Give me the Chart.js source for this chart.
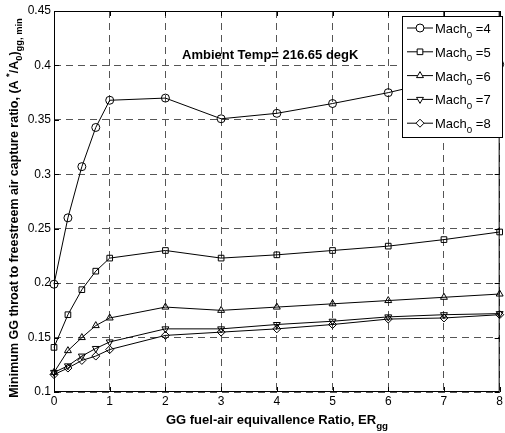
<!DOCTYPE html>
<html lang="en">
<head>
  <meta charset="UTF-8" />
  <title>Minimum GG throat ratio</title>
  <script src="https://cdn.jsdelivr.net/npm/chart.js"></script>
  <style>
    body { margin: 0; background: #fff; }
    #wrap { width: 505px; height: 433px; }
  </style>
</head>
<body>
  <div id="wrap"><canvas id="chart" width="505" height="433"></canvas></div>

  <script>
    // Data
    const erValues = [0, 0.25, 0.5, 0.75, 1, 2, 3, 4, 5, 6, 7, 8];
    const mach4 = [0.199, 0.260, 0.307, 0.343, 0.368, 0.370, 0.351, 0.356, 0.365, 0.375, 0.387, 0.401];
    const mach5 = [0.141, 0.171, 0.194, 0.211, 0.223, 0.230, 0.223, 0.226, 0.230, 0.234, 0.240, 0.247];
    const mach6 = [0.118, 0.138, 0.150, 0.161, 0.168, 0.178, 0.175, 0.178, 0.181, 0.184, 0.187, 0.190];
    const mach7 = [0.118, 0.124, 0.133, 0.140, 0.146, 0.158, 0.158, 0.162, 0.165, 0.169, 0.171, 0.172];
    const mach8 = [0.116, 0.122, 0.129, 0.133, 0.139, 0.152, 0.155, 0.158, 0.162, 0.167, 0.168, 0.171];
    const machLabels = ['4', '5', '6', '7', '8'];
    const xTicks = [0, 1, 2, 3, 4, 5, 6, 7, 8];
    const yTicks = [0.1, 0.15, 0.2, 0.25, 0.3, 0.35, 0.4, 0.45];

    const FONT = "'Liberation Sans', Arial, Helvetica, sans-serif";
    const markers = [
      { style: 'circle', rot: 0 },
      { style: 'rect', rot: 0 },
      { style: 'triangle', rot: 0 },
      { style: 'triangle', rot: 180 },
      { style: 'rectRot', rot: 0 }
    ];
    const series = [mach4, mach5, mach6, mach7, mach8];

    const datasets = series.map((vals, i) => ({
      label: 'Mach0 =' + machLabels[i],
      data: vals.map((v, k) => ({ x: erValues[k], y: v })),
      borderColor: '#000',
      borderWidth: 1,
      pointStyle: markers[i].style,
      pointRotation: markers[i].rot,
      pointRadius: 4,
      pointBorderWidth: 1,
      pointBorderColor: '#000',
      pointBackgroundColor: 'rgba(0,0,0,0)',
      tension: 0,
      clip: false
    }));

    // draw text pieces with sub/superscripts, centred or left aligned at x
    function richText(ctx, parts, x, y, size, bold, align) {
      const w = parts.map(p => {
        ctx.font = (bold ? 'bold ' : '') + (p.sub || p.sup ? size * 0.75 : size) + 'px ' + FONT;
        return ctx.measureText(p.t).width;
      });
      const total = w.reduce((a, b) => a + b, 0);
      let cx = align === 'center' ? x - total / 2 : x;
      ctx.textAlign = 'left';
      ctx.textBaseline = 'alphabetic';
      parts.forEach((p, i) => {
        ctx.font = (bold ? 'bold ' : '') + (p.sub || p.sup ? size * 0.75 : size) + 'px ' + FONT;
        const dy = p.sub ? size * 0.35 : (p.sup ? -size * 0.45 : 0);
        ctx.fillText(p.t, cx, y + dy);
        cx += w[i];
      });
    }

    const decorations = {
      id: 'decorations',
      afterDatasetsDraw(chart) {
        const { ctx, chartArea: a, scales: { x, y } } = chart;
        ctx.save();
        ctx.fillStyle = '#000';
        ctx.strokeStyle = '#000';
        ctx.lineWidth = 1;

        // axes box
        ctx.strokeRect(a.left + 0.5, a.top + 0.5, a.right - a.left - 1, a.bottom - a.top - 1);

        // inward ticks on all four sides
        ctx.beginPath();
        xTicks.forEach(v => {
          const px = Math.round(x.getPixelForValue(v)) + 0.5;
          ctx.moveTo(px, a.bottom); ctx.lineTo(px, a.bottom - 5);
          ctx.moveTo(px, a.top); ctx.lineTo(px, a.top + 5);
        });
        yTicks.forEach(v => {
          const py = Math.round(y.getPixelForValue(v)) + 0.5;
          ctx.moveTo(a.left, py); ctx.lineTo(a.left + 5, py);
          ctx.moveTo(a.right, py); ctx.lineTo(a.right - 5, py);
        });
        ctx.stroke();

        // annotation
        ctx.font = 'bold 13px ' + FONT;
        ctx.textAlign = 'left';
        ctx.fillText('Ambient Temp= 216.65 degK', 182, 59);

        // x axis title
        richText(ctx, [
          { t: 'GG fuel-air equivallence Ratio, ER' },
          { t: 'gg', sub: true }
        ], 277, 424, 13, true, 'center');

        // y axis title
        ctx.save();
        ctx.translate(18, 208);
        ctx.rotate(-Math.PI / 2);
        richText(ctx, [
          { t: 'Minimum GG throat to freestreem air capture ratio, (A ' },
          { t: '*', sup: true },
          { t: '/A' },
          { t: '0', sub: true },
          { t: ')' },
          { t: 'gg, min', sub: true }
        ], 0, 0, 12.5, true, 'center');
        ctx.restore();

        // legend
        const lx = 402, ly = 16, lw = 100, lh = 121;
        ctx.fillStyle = '#fff';
        ctx.fillRect(lx, ly, lw, lh);
        ctx.strokeRect(lx + 0.5, ly + 0.5, lw, lh);
        chart.data.datasets.forEach((ds, i) => {
          const ry = ly + 12 + i * 23.8;
          ctx.beginPath();
          ctx.moveTo(lx + 5, ry); ctx.lineTo(lx + 31, ry);
          ctx.stroke();
          ctx.fillStyle = '#fff';
          Chart.helpers.drawPoint(ctx, {
            pointStyle: ds.pointStyle, rotation: ds.pointRotation,
            radius: 4, borderWidth: 1
          }, lx + 18, ry);
          ctx.fillStyle = '#000';
          richText(ctx, [
            { t: 'Mach' },
            { t: '0', sub: true },
            { t: ' =' + machLabels[i] }
          ], lx + 33, ry + 5, 13, false, 'left');
        });
        ctx.restore();
      }
    };

    new Chart(document.getElementById('chart'), {
      type: 'line',
      data: { datasets },
      plugins: [decorations],
      options: {
        responsive: false,
        animation: false,
        layout: { padding: { left: 0, right: 3, top: 11, bottom: 0 } },
        plugins: { legend: { display: false }, tooltip: { enabled: false } },
        scales: {
          x: {
            type: 'linear',
            min: 0, max: 8,
            afterFit: s => { s.height = 41; },
            afterBuildTicks: s => { s.ticks = xTicks.map(v => ({ value: v })); },
            ticks: { color: '#000', padding: 2, font: { family: FONT, size: 12 } },
            grid: { color: '#555', drawTicks: false },
            border: { display: false, dash: [7, 5] }
          },
          y: {
            type: 'linear',
            min: 0.1, max: 0.45,
            afterFit: s => { s.width = 54; },
            afterBuildTicks: s => { s.ticks = yTicks.map(v => ({ value: v })); },
            ticks: {
              color: '#000', padding: 3, font: { family: FONT, size: 12 },
              callback: v => String(+v.toFixed(2))
            },
            grid: { color: '#555', drawTicks: false },
            border: { display: false, dash: [7, 5] }
          }
        }
      }
    });
  </script>
</body>
</html>
